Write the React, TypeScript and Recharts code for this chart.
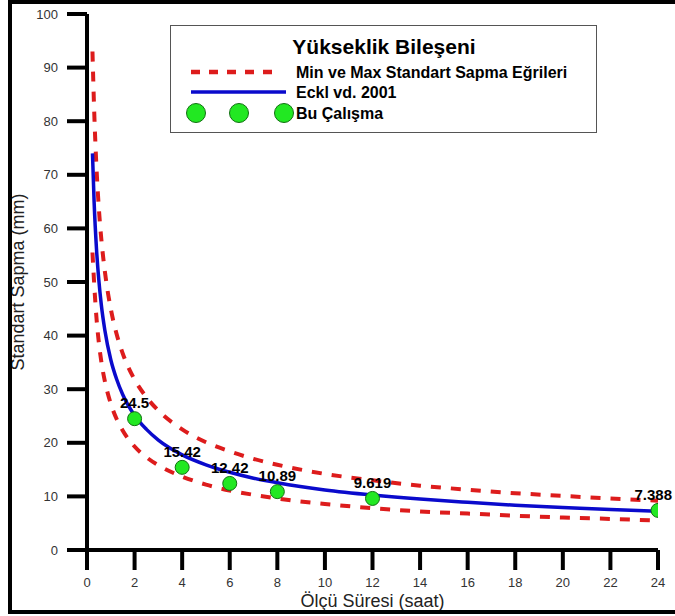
import {
    ComposedChart, Line, Scatter, XAxis, YAxis, Legend, LabelList,
} from "recharts";

// measurement duration (hours) sampled along the curves
const times = [0.23, 0.3, 0.4, 0.5, 0.6, 0.75, 1, 1.25, 1.5, 2, 2.5, 3, 4, 5, 6, 7, 8, 10, 12, 14, 16, 18, 20, 22, 24];
// upper dashed curve (max std. deviation)
const maxSigma = [93, 82.2, 71.2, 63.6, 58.1, 52.0, 45.0, 40.2, 36.7, 31.8, 28.5, 26.0, 22.5, 20.1, 18.4, 17.0, 15.9, 14.2, 13.0, 12.0, 11.25, 10.6, 10.1, 9.6, 9.2];
// lower dashed curve (min std. deviation)
const minSigma = [55.5, 49.8, 43.2, 38.6, 35.2, 31.5, 27.3, 24.4, 22.3, 19.3, 17.3, 15.8, 13.7, 12.2, 11.1, 10.3, 9.6, 8.6, 7.8, 7.2, 6.8, 6.4, 6.05, 5.8, 5.5];
// Eckl et al. 2001
const ecklSigma = [74.0, 64.8, 56.1, 50.2, 45.8, 41.0, 35.5, 31.8, 29.0, 25.1, 22.5, 20.5, 17.75, 15.9, 14.5, 13.4, 12.55, 11.2, 10.25, 9.5, 8.9, 8.35, 7.95, 7.55, 7.25];

// this study
const studyTimes = [2, 4, 6, 8, 12, 24];
const studySigma = [24.5, 15.42, 12.42, 10.89, 9.619, 7.388];

const xTicks = [0, 2, 4, 6, 8, 10, 12, 14, 16, 18, 20, 22, 24];
const yTicks = [0, 10, 20, 30, 40, 50, 60, 70, 80, 90, 100];

const curveData = times.map((t, i) => ({ t, max: maxSigma[i], min: minSigma[i], eckl: ecklSigma[i] }));
const studyData = studyTimes.map((t, i) => ({ t, sigma: studySigma[i] }));

const font = "Arial, 'Liberation Sans', sans-serif";
const red = "#dd1c1c";
const blue = "#0a0acc";
const green = "#22e822";

const GreenDot = (props: any) => (
    <circle cx={props.cx} cy={props.cy} r={7} fill={green} stroke="#127012" strokeWidth={1} />
);

// value label above a point; the last one is pulled in so it stays inside the frame
const PointLabel = (props: any) => {
    const { x, y, width, value } = props;
    const cx = x + (width || 0) / 2;
    const nearEdge = cx > 640;
    return (
        <text
            x={nearEdge ? 672 : cx} y={y - 6}
            textAnchor={nearEdge ? "end" : "middle"}
            fontFamily={font} fontSize={15} fontWeight="bold" fill="#000"
        >
            {value}
        </text>
    );
};

const LegendBox = () => (
    <div style={{ width: 427, height: 108, border: "1px solid #555", boxSizing: "border-box", background: "#fff" }}>
        <svg width={425} height={106} style={{ display: "block" }}>
            <text x={213} y={28} textAnchor="middle" fontFamily={font} fontWeight="bold" fontSize={21} fill="#000">
                Yükseklik Bileşeni
            </text>
            <line x1={20} y1={46} x2={106} y2={46} stroke={red} strokeWidth={4.5} strokeDasharray="9 9" />
            <text x={125} y={52} fontFamily={font} fontWeight="bold" fontSize={16} fill="#000">
                Min ve Max Standart Sapma Eğrileri
            </text>
            <line x1={20} y1={66} x2={115} y2={66} stroke={blue} strokeWidth={3.5} />
            <text x={125} y={72} fontFamily={font} fontWeight="bold" fontSize={16} fill="#000">Eckl vd. 2001</text>
            {[25, 68, 113].map((cx) => (
                <circle key={cx} cx={cx} cy={87} r={9.5} fill={green} stroke="#127012" strokeWidth={1} />
            ))}
            <text x={125} y={93} fontFamily={font} fontWeight="bold" fontSize={16} fill="#000">Bu Çalışma</text>
        </svg>
    </div>
);

const YTitle = (props: any) => {
    const { viewBox } = props;
    const cy = viewBox.y + viewBox.height / 2;
    return (
        <text x={24} y={cy} transform={`rotate(-90, 24, ${cy})`} textAnchor="middle" fontFamily={font} fontSize={18} fill="#222">
            Standart Sapma (mm)
        </text>
    );
};

export default function App() {
    return (
        <div style={{ position: "fixed", left: 0, top: 0, width: 675, height: 616, overflow: "hidden", background: "#fff" }}>
            <ComposedChart width={675} height={616} margin={{ top: 14, right: 17, left: 0, bottom: 0 }}>
                <XAxis
                    type="number" dataKey="t" domain={[0, 24]} ticks={xTicks} height={66}
                    axisLine={{ stroke: "#000", strokeWidth: 4 }}
                    tickLine={{ stroke: "#000", strokeWidth: 4 }} tickSize={20} tickMargin={8}
                    tick={{ fontSize: 13, fill: "#333", fontFamily: font }}
                    label={{ value: "Ölçü Süresi (saat)", position: "insideBottom", offset: 9, fontSize: 18, fill: "#222", fontFamily: font }}
                    allowDataOverflow
                />
                <YAxis
                    type="number" domain={[0, 100]} ticks={yTicks} width={87}
                    axisLine={{ stroke: "#000", strokeWidth: 4 }}
                    tickLine={{ stroke: "#000", strokeWidth: 4 }} tickSize={20} tickMargin={9}
                    tick={{ fontSize: 13, fill: "#333", fontFamily: font }}
                    label={<YTitle />}
                />
                <Legend
                    layout="horizontal" verticalAlign="middle" align="center"
                    content={<LegendBox />}
                    wrapperStyle={{ position: "absolute", left: 170, top: 25, width: 427, height: 108 }}
                />
                <Line data={curveData} dataKey="max" type="monotone" stroke={red} strokeWidth={4} strokeDasharray="10 10" dot={false} isAnimationActive={false} />
                <Line data={curveData} dataKey="min" type="monotone" stroke={red} strokeWidth={4} strokeDasharray="10 10" dot={false} isAnimationActive={false} />
                <Line data={curveData} dataKey="eckl" type="monotone" stroke={blue} strokeWidth={3.5} dot={false} isAnimationActive={false} />
                <Scatter data={studyData} dataKey="sigma" shape={<GreenDot />} isAnimationActive={false}>
                    <LabelList dataKey="sigma" content={<PointLabel />} />
                </Scatter>
            </ComposedChart>
            <div style={{ position: "absolute", left: 8, top: 0, width: 700, height: 614, border: "4px solid #000", boxSizing: "border-box", pointerEvents: "none" }} />
        </div>
    );
}
